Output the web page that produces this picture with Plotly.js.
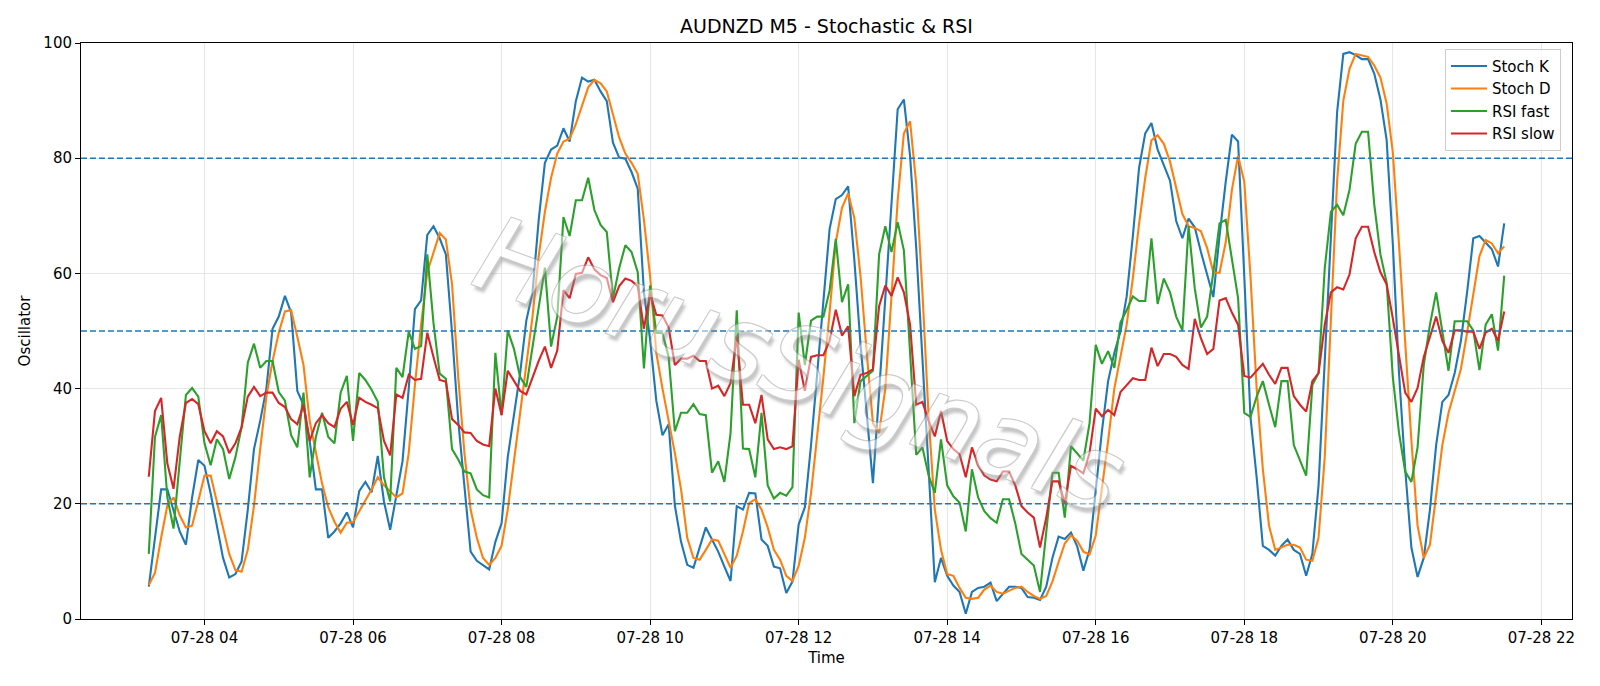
<!DOCTYPE html>
<html>
<head>
<meta charset="utf-8">
<script src="https://cdn.plot.ly/plotly-3.0.1.min.js"></script>
<style>html,body{margin:0;padding:0;background:#fff;}#chart{width:1600px;height:686px;}</style>
</head>
<body>
<div id="chart"></div>
<script>
// ---- data (M5 bars, 2025-07-28 03:15 .. 21:30) ----
const startDate = '2025-07-28';
const startMinutes = 3 * 60 + 15;
const stepMinutes = 5;

const stochK = [5.6,14,22.5,22.5,19,15.2,12.9,21.1,27.6,26.6,21.8,16.2,10.6,7.2,7.8,10,19,29.5,34.4,40,
50.4,52.5,56.1,53.2,39.6,37.2,30.9,22.5,22.5,14.1,15.2,16.6,18.5,15.9,22.2,23.8,22,28.3,20.4,15.5,
21.8,27.4,40,53.8,55.3,66.7,68.2,66.1,63.3,49.7,34.4,23.2,11.7,10.1,9.4,8.6,13.4,16.6,28.1,35.8,
42.7,51.8,56.7,69.3,79.2,81.5,82.2,85.2,82.9,89.9,94,93.3,93.6,91.6,89.9,82.7,80.1,79.9,77.6,74.7,
56.7,48.5,37.9,31.9,33.8,19.7,13.4,9.4,8.9,12.4,15.9,13.8,11.7,9.1,6.6,19.6,19,21.9,21.8,13.8,
12.7,9.1,8.8,4.5,6.5,16.4,19.4,30.2,42.7,54.6,67.7,72.9,73.6,75.1,62.3,47.6,35.8,23.6,39.3,55.3,
72.1,88.5,90.2,80.4,64.4,46.2,26,6.4,10.6,7.5,5.8,4.7,0.9,4.7,5.4,5.6,6.3,3.1,4.4,5.6,
5.6,5.4,3.8,3.7,3.3,5.6,10.6,14.3,13.9,15,12.6,8.4,12,22.5,32.6,41.3,46.2,49.9,56,66.5,
78.3,84.3,86.1,81.5,78.8,76.1,69.1,66.1,69.5,68,63.7,59.8,55.9,66.5,75.9,84.1,82.9,59.5,35.1,24.6,
12.7,12,11,12.7,13.8,12,11.3,7.5,11.3,23.2,45.5,68,88,98.1,98.4,97.9,97.2,97.2,94.7,90.2,
83.2,65.1,42.7,26,12.4,7.3,10.6,19,30.2,37.7,38.9,42.7,48.3,56.7,66.1,66.5,65.3,64.2,61.2,68.7];

const stochD = [5.9,8,14.1,19.7,21.1,18,15.9,16.2,20.5,24.9,24.9,20.4,15.5,11.3,8.5,8.2,12,19.7,29.5,38.6,
44.8,49.7,53.4,53.6,49,44.1,34.4,28.8,23.5,19.4,16.9,15,16.7,16.8,18.7,20.4,22.5,24.6,23.2,22.2,
21.1,21.8,28.8,40.6,51.1,60.2,63.7,67,65.9,58.1,42,28.8,19,14.1,10.6,9.4,10.6,12.7,19,27.4,
36.5,44.1,52.5,63,70.7,76.6,80.8,82.9,83.4,85.9,89.2,92.3,93.6,93,91.6,87.4,83.6,80.8,79.2,77.3,
69.3,59.5,46.2,40,34.4,28.8,22.5,14.1,10.6,10.3,12,13.8,13.6,11.3,8.9,11,15.2,20.1,20.8,19,
15.9,12,10.3,7.5,6.6,9.2,14.1,21.8,31.6,42,53.2,65.4,71.4,73.9,69.6,59.5,46.2,34,32.3,40,
56,72.7,84.3,86.4,75.5,56.7,35.1,19,12,7.8,7.5,5.4,3.7,3.5,3.7,5.1,5.8,4.7,4.4,4.9,
5.4,5.6,4.7,4,3.5,4,6.5,9.9,13.1,14.5,13.6,11.7,11.2,14.5,22.5,30.9,40,45.5,51.1,59.2,
68.6,76.6,83.1,84,82.5,79.4,74.8,70.3,68.2,67.9,67.3,64.4,60.2,60.1,65.4,74.5,80.4,75.9,59.5,40,
26,16.2,12,12.4,12.9,12.9,12.4,10.3,10.1,14.1,28.1,52,76,90,95.5,98.1,97.9,97.6,96.1,94,
89.5,81,65,48,31,16.2,10.6,12.9,21.8,30.2,35.8,39.6,43.4,49.7,56.7,63,65.8,65.2,63.5,64.7];

const rsiFast = [11.3,31.6,35.4,21.1,15.7,28,38.9,40.1,38.6,30.5,26.7,31.2,29.5,24.3,28.1,33.3,44.5,47.8,43.6,44.8,
44.8,39.4,37.9,31.9,29.8,39.3,24.6,31.6,35.8,31.6,30.5,39.3,42.2,30.9,42.7,41.5,39.8,37.7,24.6,20.4,
43.6,42,49.9,46.9,47.4,63.3,51.4,42.6,41.7,29.5,27.7,25.6,25.3,22.5,21.5,21.1,46.2,35.4,50.1,46.9,
42,40.3,47.3,53.9,61,47.3,52.5,69.8,66.5,72.7,72.7,76.6,71,68.4,67.2,55.7,60.9,64.9,63.7,60.2,
43.5,57.9,49.7,49.6,45.5,32.6,35.8,35.8,37.3,35.6,35.4,25.4,27.4,23.8,32.3,53.6,29.6,29.5,24.6,35.8,
23.2,20.9,21.9,21.4,22.9,53.2,44.1,51.8,52.5,52.5,57,66,55,58.1,34,41.3,42.2,43.1,63.3,68.2,
63.7,68.9,64,45.5,28.5,29.8,24.9,21.9,31.2,23.2,21.3,20.2,15.2,26,21.1,18.7,17.5,16.7,20.8,20.8,
16.6,11.3,10.3,9.3,4.7,14.5,25.4,25.4,17.6,30,28.8,27.5,34,47.6,44.3,46.5,43.6,51.5,53.6,56,
55.2,55.2,66.1,54.7,59.1,56.7,52.5,50.1,68.2,57.4,50.6,52.5,60.2,68.7,69.3,62.6,55.7,35.8,35.1,38.6,
41.3,37.2,33.3,41.3,41.3,30.2,27.4,24.9,40.6,42.7,60.9,70.7,71.9,70.1,74.5,82.5,84.6,84.6,72,63.3,
58.4,42,32.3,25.6,23.8,29.8,44.1,51.1,56.7,49.9,43.1,51.7,51.7,51.7,50.1,43.2,51.1,52.9,46.6,59.6];

const rsiSlow = [24.7,36.1,38.4,27,22.6,31.6,37.5,38.2,37.3,32.6,30.5,32.6,31.7,28.8,30.5,33.3,38.6,40.3,38.7,39.3,
39.3,37.5,36.8,34.7,33.8,37.2,30.9,34,35.4,34,33.3,36.5,37.7,33.7,38.4,37.7,37.2,36.6,30.9,28.4,
39,38.4,42.4,41.5,41.7,49.7,45.5,41.5,41.2,34.7,33.7,32.4,32.3,30.9,30.3,30,40,35.4,43.1,41.3,
39.6,39,42,44.8,47.3,43.6,46.6,57.1,55.7,59.9,60.1,62.8,60.7,59.7,59.2,55,57.8,59.1,58.7,57.8,
50.4,56.5,52.8,52.7,50.6,44.1,45.2,45.2,45.7,44.8,44.8,40,40.5,38.7,41,49,37.2,37.2,34,38.9,
31.2,29.5,29.8,29.5,30,45,39.6,45.5,45.8,45.8,48.3,53.7,49.2,50.8,38.7,42.4,42.7,43.4,54.3,57.9,
56.1,59.3,56.7,51.1,37.2,37.7,34.4,31.7,36.1,30.9,29.5,28.6,24.6,29.8,26.7,24.9,24.2,23.9,25.6,25.6,
23.2,19.6,18.5,17.6,12.4,17.6,23.9,23.9,20.1,26.6,26,25.3,28.8,36.5,35.2,36.3,35.4,39.4,40.6,41.8,
41.5,41.5,47.1,43.9,46,46,45.5,44.1,43.4,52.1,48.7,46,46.9,55.3,55.7,53.2,51.1,42.2,41.9,43.1,
44.3,42.4,40.8,43.6,43.6,38.7,37.2,36,41.3,42.7,51.1,56.7,57.6,57.2,59.8,66.1,68.1,68.1,63.7,60.2,
58.1,52.2,45.5,39.3,37.7,40.1,45.5,48.9,52.5,48.3,46.2,50.1,50.1,49.9,49.9,46.9,49.7,50.4,48.3,53.4];

const seriesNames = ['Stoch K', 'Stoch D', 'RSI fast', 'RSI slow'];
const levelLines = [80, 50, 20];
const titleText = 'AUDNZD M5 - Stochastic & RSI';
const watermarkText = 'HorusSignals';

// ---- build time axis ----
function pad(n){ return (n < 10 ? '0' : '') + n; }
const times = stochK.map((_, i) => {
  const m = startMinutes + stepMinutes * i;
  return startDate + ' ' + pad(Math.floor(m / 60)) + ':' + pad(m % 60) + ':00';
});

const colors = ['#1f77b4', '#ff7f0e', '#2ca02c', '#d62728'];
const seriesValues = [stochK, stochD, rsiFast, rsiSlow];
const traces = seriesValues.map((vals, k) => ({
  x: times, y: vals, type: 'scatter', mode: 'lines', name: seriesNames[k],
  line: {color: colors[k], width: 2.1}
}));

const font = 'DejaVu Sans, sans-serif';
const fs = 15;
const shapes = levelLines.map(v => ({
  type: 'line', xref: 'paper', x0: 0, x1: 1, yref: 'y', y0: v, y1: v,
  line: {color: '#1f77b4', width: 1.5, dash: '6px,3px'}, layer: 'above'
}));

const layout = {
  width: 1600, height: 686,
  paper_bgcolor: '#ffffff', plot_bgcolor: '#ffffff',
  margin: {l: 81, r: 28, t: 43, b: 67},
  font: {family: font, size: fs, color: '#000'},
  title: {text: titleText, font: {family: font, size: 19, color: '#000'},
          x: 0.5, xref: 'paper', xanchor: 'center', y: 1 - 26/686, yref: 'container', yanchor: 'middle'},
  showlegend: true,
  legend: {x: 0.9926, xanchor: 'right', y: 0.99, yanchor: 'top',
           bgcolor: 'rgba(255,255,255,0.8)', bordercolor: '#cccccc', borderwidth: 1,
           font: {family: font, size: fs, color: '#000'}, itemwidth: 36},
  xaxis: {
    type: 'date',
    range: ['2025-07-28 02:20:15', '2025-07-28 22:24:45'],
    tick0: '2025-07-28 00:00:00', dtick: 7200000, tickformat: '%m-%d %H',
    showgrid: true, gridcolor: '#e6e6e6', gridwidth: 1,
    showline: true, linecolor: '#000', linewidth: 1, mirror: true,
    ticks: 'outside', ticklen: 5, tickwidth: 1, tickcolor: '#000',
    tickfont: {family: font, size: fs, color: '#000'},
    zeroline: false,
    title: {text: 'Time', font: {family: font, size: fs, color: '#000'}, standoff: 6}
  },
  yaxis: {
    range: [0, 100], tick0: 0, dtick: 20,
    showgrid: true, gridcolor: '#e6e6e6', gridwidth: 1,
    showline: true, linecolor: '#000', linewidth: 1, mirror: true,
    ticks: 'outside', ticklen: 5, tickwidth: 1, tickcolor: '#000',
    tickfont: {family: font, size: fs, color: '#000'},
    zeroline: false,
    title: {text: 'Oscillator', font: {family: font, size: fs, color: '#000'}, standoff: 9}
  },
  shapes: shapes,
  annotations: [{
    text: watermarkText, xref: 'x', yref: 'y',
    x: '2025-07-28 12:00:43', y: 44.1, showarrow: false, textangle: 20,
    xanchor: 'center', yanchor: 'middle', opacity: 0.5,
    font: {family: font, size: 104, style: 'italic', color: '#ffffff',
           shadow: '1px 1px 0 #9a9a9a, -1px -1px 0 #9a9a9a, 1px -1px 0 #9a9a9a, -1px 1px 0 #9a9a9a, 4px 4px 3px #8c8c8c'}
  }]
};

Plotly.newPlot('chart', traces, layout, {displayModeBar: false, staticPlot: true});
</script>
</body>
</html>
